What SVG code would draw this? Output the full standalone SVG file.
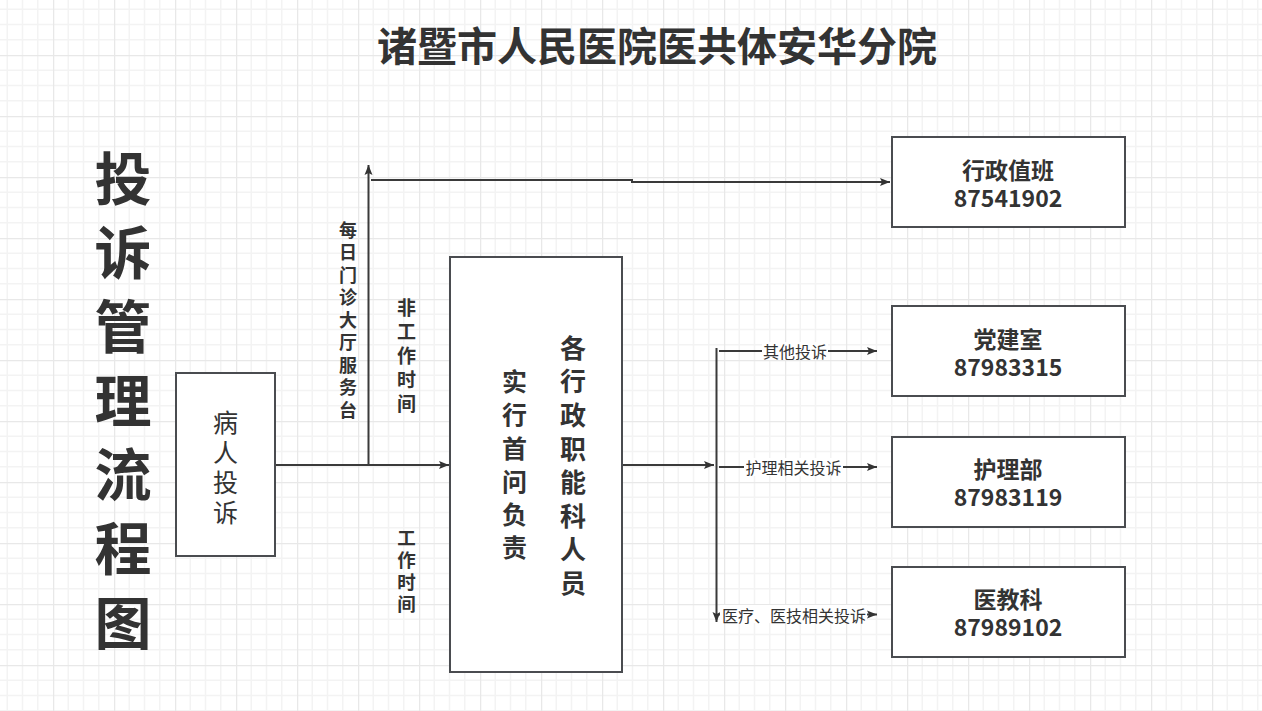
<svg xmlns="http://www.w3.org/2000/svg" width="1262" height="711" viewBox="0 0 1262 711">
<style>
.box{fill:#fff;stroke:#4a4c50;stroke-width:2}
.edge{fill:none;stroke:#3a3a3a;stroke-width:2}
.f{font-family:"Noto Sans CJK SC","Liberation Sans",sans-serif;fill:#333}
.t{text-anchor:middle;dominant-baseline:central}
.v{writing-mode:vertical-rl;text-orientation:upright}
.b{font-weight:bold}
.lbl{font-size:16px}
.lblbg{fill:#fff}
</style>
<defs>
<pattern id="grid" x="-8" y="-6" width="61" height="61" patternUnits="userSpaceOnUse">
<path d="M15.25,0V61M30.5,0V61M45.75,0V61M0,15.25H61M0,30.5H61M0,45.75H61" stroke="#f3f3f3" stroke-width="1.5" fill="none"/>
<path d="M0.5,0V61M0,0.5H61" stroke="#e8e8e8" stroke-width="1.5" fill="none"/>
</pattern>
<marker id="arr" markerWidth="11" markerHeight="9" refX="10" refY="4.5" orient="auto" markerUnits="userSpaceOnUse">
<path d="M0,0.5 L10,4.5 L0,8.5 L2,4.5 z" fill="#333"/>
</marker>
</defs>
<rect width="1262" height="711" fill="#fff"/>
<rect width="1262" height="711" fill="url(#grid)"/>

<g id="title">
<text class="f t b" x="657" y="44" font-size="40">诸暨市人民医院医共体安华分院</text>
</g>
<g id="side-title">
<text class="f v b" x="123" y="149.5" font-size="57" letter-spacing="17">投诉管理流程图</text>
</g>

<g id="connectors">
<path class="edge" d="M275,465 H449" marker-end="url(#arr)"/>
<path class="edge" d="M368.5,465 V165" marker-end="url(#arr)"/>
<path class="edge" d="M371,180 H632 V182 H890" marker-end="url(#arr)"/>
<path class="edge" d="M623,465 H714" marker-end="url(#arr)"/>
<path class="edge" d="M716.5,348 V622" marker-end="url(#arr)"/>
<path class="edge" d="M719,351 H877" marker-end="url(#arr)"/>
<path class="edge" d="M719,467 H877" marker-end="url(#arr)"/>
<path class="edge" d="M719,614.5 H877" marker-end="url(#arr)"/>
<rect class="lblbg" x="762" y="342" width="66" height="18"/>
<text class="f t lbl" x="795" y="351">其他投诉</text>
<rect class="lblbg" x="744" y="458" width="99" height="18"/>
<text class="f t lbl" x="793.5" y="467">护理相关投诉</text>
<rect class="lblbg" x="720" y="605" width="147" height="18"/>
<text class="f t lbl" x="794" y="614.5">医疗、医技相关投诉</text>
<text class="f v b" x="348" y="221" font-size="18" letter-spacing="4.5">每日门诊大厅服务台</text>
<text class="f v b" x="406.5" y="298" font-size="19" letter-spacing="5">非工作时间</text>
<text class="f v b" x="406.5" y="528.75" font-size="18.5" letter-spacing="3.5">工作时间</text>
</g>

<g id="patient">
<rect class="box" x="176" y="373" width="99" height="183"/>
<text class="f v" x="225.5" y="409.5" font-size="25" letter-spacing="5">病人投诉</text>
</g>

<g id="staff">
<rect class="box" x="450" y="257" width="172" height="415"/>
<text class="f v b" x="514.5" y="369" font-size="25" letter-spacing="8.3">实行首问负责</text>
<text class="f v b" x="573" y="335" font-size="26" letter-spacing="7.57">各行政职能科人员</text>
</g>

<g id="admin">
<rect class="box" x="892" y="137" width="233" height="90"/>
<text class="f t b" font-size="23"><tspan x="1008" y="169">行政值班</tspan><tspan x="1008" y="197">87541902</tspan></text>
</g>
<g id="party">
<rect class="box" x="892" y="306" width="233" height="90"/>
<text class="f t b" font-size="23"><tspan x="1008" y="337.5">党建室</tspan><tspan x="1008" y="365.5">87983315</tspan></text>
</g>
<g id="nursing">
<rect class="box" x="892" y="437" width="233" height="90"/>
<text class="f t b" font-size="23"><tspan x="1008" y="468">护理部</tspan><tspan x="1008" y="496">87983119</tspan></text>
</g>
<g id="education">
<rect class="box" x="892" y="567" width="233" height="90"/>
<text class="f t b" font-size="23"><tspan x="1008" y="598">医教科</tspan><tspan x="1008" y="626">87989102</tspan></text>
</g>
</svg>
